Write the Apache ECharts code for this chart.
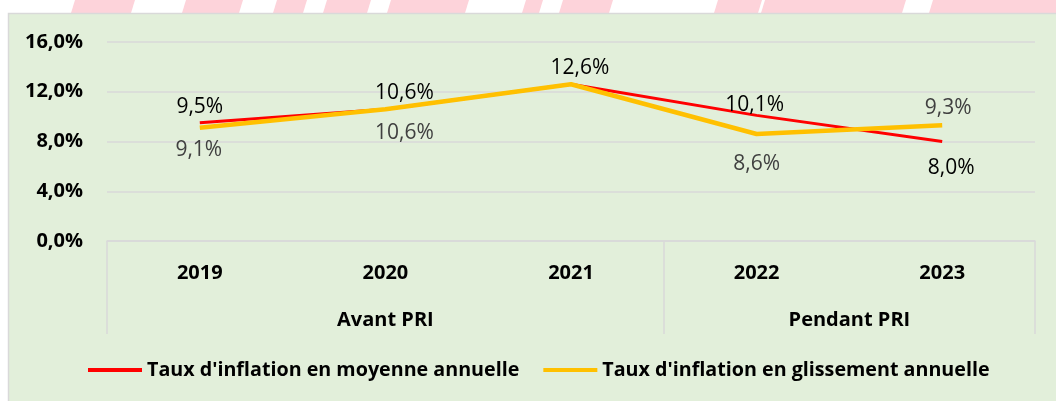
<!DOCTYPE html>
<html>
<head>
<meta charset="utf-8">
<title>Taux d'inflation</title>
<script src="https://cdn.jsdelivr.net/npm/echarts@6/dist/echarts.min.js"></script>
<style>
  html, body { margin: 0; padding: 0; background: #fff; }
  #chart { width: 1056px; height: 401px; }
</style>
</head>
<body>
<div id="chart"></div>
<script>
// données
const years = ['2019', '2020', '2021', '2022', '2023']
const periods = ['Avant PRI', 'Pendant PRI']
const periodCenters = [1.5, 4]   // milieu de chaque groupe sur l'axe 0..5
const periodBounds = [0, 3, 5]
const moyenne = [9.5, 10.6, 12.6, 10.1, 8.0]
const glissement = [9.1, 10.6, 12.6, 8.6, 9.3]
const yTicks = [0, 4, 8, 12, 16]

// placement des étiquettes (comme dans Excel)
const moyPos = ['top', 'top', 'top', 'top', 'bottom']
const moyDist = [5, 6, 6, 0, 16]
const moyDx = [0, 19, 9, -2, 9]
const gliPos = ['bottom', 'bottom', null, 'bottom', 'top']
const gliDist = [12, 13, 0, 19, 7]
const gliDx = [-1, 19, 0, 0, 6]

const FONT = 'Open Sans'
const pct = v => v.toFixed(1).replace('.', ',') + '%'

function buildData (values, pos, dist, dx) {
  return values.map((v, i) => ({
    value: v,
    label: pos[i]
      ? { show: true, position: pos[i], distance: dist[i], offset: [dx[i], 0] }
      : { show: false }
  }))
}

// bandes roses en haut (filigrane)
const stripes = [
  [71, 131], [182, 239], [273, 303], [323, 367], [387, 465],
  [522, 539], [559, 609], [714, 758], [761, 902], [929, 1060]
].map(s => ({
  type: 'polygon',
  z: -2,
  shape: { points: [[s[0] + 4, 0], [s[1] + 4, 0], [s[1], 13], [s[0], 13]] },
  style: { fill: '#fdd3da' }
}))

const myChart = echarts.init(document.getElementById('chart'))
myChart.setOption({
  animation: false,
  backgroundColor: '#ffffff',
  textStyle: { fontFamily: FONT },
  graphic: stripes.concat([
    {
      type: 'rect',
      z: -1,
      shape: { x: 8.5, y: 13.5, width: 1060, height: 400 },
      style: { fill: '#e2efda', stroke: '#d9d9d9', lineWidth: 1.5 }
    }
  ]),
  grid: { left: 107, right: 21, top: 42, bottom: 160 },
  legend: {
    left: 88,
    top: 360,
    padding: 0,
    itemWidth: 54,
    itemHeight: 4,
    itemGap: 24,
    textStyle: { fontFamily: FONT, fontWeight: 'bold', fontSize: 19.7, color: '#000' },
    data: [
      { name: "Taux d'inflation en moyenne annuelle", icon: 'rect' },
      { name: "Taux d'inflation en glissement annuelle", icon: 'rect' }
    ]
  },
  xAxis: [
    {
      type: 'category',
      data: years,
      boundaryGap: true,
      axisLine: { show: true, lineStyle: { color: '#d9d9d9', width: 1.5 } },
      axisTick: { show: false },
      axisLabel: { margin: 22, fontFamily: FONT, fontWeight: 'bold', fontSize: 20, color: '#000' }
    },
    {
      type: 'value',
      position: 'bottom',
      min: 0,
      max: 5,
      axisLine: { show: false },
      splitLine: { show: false },
      axisTick: {
        show: true,
        customValues: periodBounds,
        length: 93,
        lineStyle: { color: '#d9d9d9', width: 1.5 }
      },
      axisLabel: {
        customValues: periodCenters,
        margin: 69,
        fontFamily: FONT,
        fontWeight: 'bold',
        fontSize: 20,
        color: '#000',
        formatter: v => periods[periodCenters.indexOf(v)] || ''
      }
    }
  ],
  yAxis: {
    type: 'value',
    min: yTicks[0],
    max: yTicks[yTicks.length - 1],
    interval: 4,
    axisLine: { show: false },
    axisTick: { show: false },
    splitLine: { lineStyle: { color: '#d9d9d9', width: 1.5 } },
    axisLabel: {
      margin: 24,
      fontFamily: FONT,
      fontWeight: 'bold',
      fontSize: 20,
      color: '#000',
      formatter: pct
    }
  },
  series: [
    {
      name: "Taux d'inflation en moyenne annuelle",
      type: 'line',
      xAxisIndex: 0,
      symbol: 'circle',
      symbolSize: 0,
      color: '#ff0000',
      lineStyle: { color: '#ff0000', width: 3 },
      label: {
        show: true,
        fontFamily: FONT,
        fontSize: 21,
        color: '#000',
        formatter: p => pct(p.value)
      },
      data: buildData(moyenne, moyPos, moyDist, moyDx)
    },
    {
      name: "Taux d'inflation en glissement annuelle",
      type: 'line',
      xAxisIndex: 0,
      symbol: 'circle',
      symbolSize: 0,
      color: '#ffc000',
      lineStyle: { color: '#ffc000', width: 4.5 },
      label: {
        show: true,
        fontFamily: FONT,
        fontSize: 21,
        color: '#404040',
        formatter: p => pct(p.value)
      },
      data: buildData(glissement, gliPos, gliDist, gliDx)
    }
  ]
})
</script>
</body>
</html>
